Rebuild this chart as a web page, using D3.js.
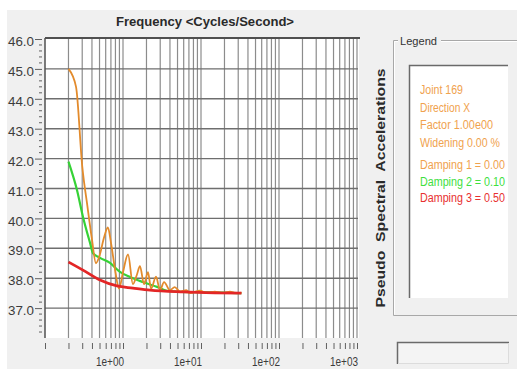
<!DOCTYPE html>
<html>
<head>
<meta charset="utf-8">
<script src="https://cdn.jsdelivr.net/npm/d3@7"></script>
<style>
  html, body { margin: 0; padding: 0; background: #ffffff; }
  svg { display: block; }
  text { font-family: "Liberation Sans", Arial, sans-serif; }
</style>
</head>
<body>
<svg id="chart" width="517" height="369"></svg>
<script>
// Response spectrum curves: frequency (Hz) and pseudo spectral acceleration
const damping1Freq = [0.2, 0.25, 0.3, 0.35, 0.4, 0.45, 0.5, 0.57, 0.64, 0.7, 0.8, 0.89, 1.0, 1.16, 1.34, 1.5, 1.65, 1.86, 2.09, 2.29, 2.65, 2.98, 3.36, 4.0, 4.6, 5.4, 6.5, 7.2, 9.7, 12, 15, 19, 23.5, 28, 33];
const damping1Values = [45.0, 44.4, 41.75, 40.4, 39.3, 38.5, 38.75, 39.35, 39.7, 39.2, 38.2, 37.65, 38.2, 38.8, 37.8, 38.1, 38.4, 37.8, 38.2, 37.65, 38.05, 37.6, 37.87, 37.6, 37.7, 37.55, 37.6, 37.5, 37.58, 37.5, 37.55, 37.5, 37.55, 37.5, 37.52];

const damping2Freq = [0.2, 0.257, 0.307, 0.378, 0.412, 0.507, 0.681, 0.915, 1.23, 1.8, 2.73, 3.66, 5, 10, 20, 33];
const damping2Values = [41.9, 40.95, 40.05, 39.18, 38.84, 38.68, 38.51, 38.21, 38.04, 37.87, 37.71, 37.58, 37.55, 37.53, 37.52, 37.5];

const damping3Freq = [0.2, 0.307, 0.507, 0.838, 1.34, 2.22, 5.87, 15, 33];
const damping3Values = [38.54, 38.27, 37.94, 37.74, 37.67, 37.6, 37.54, 37.51, 37.5];

const yTickValues = [37, 38, 39, 40, 41, 42, 43, 44, 45, 46];
const xDecades = [1, 10, 100, 1000];
const xDecadeLabels = ["1e+00", "1e+01", "1e+02", "1e+03"];

const legendLines = ["Joint 169", "Direction X", "Factor 1.00e00", "Widening 0.00 %"];
const legendLineWidths = [43, 50, 73, 80];
const dampingLabels = ["Damping 1 = 0.00", "Damping 2 = 0.10", "Damping 3 = 0.50"];
const seriesColors = ["#e38b2c", "#36d236", "#e32626"];
const legendTextColors = ["#f0a24e", "#3ee03e", "#e83030"];

const svg = d3.select("#chart");

// window background
svg.append("rect").attr("x", 7).attr("y", 10).attr("width", 510).attr("height", 359).attr("fill", "#f0f0f0");

const x = d3.scaleLog().domain([0.1, 1000]).range([45, 357]);
const y = d3.scaleLinear().domain([36, 46]).range([338, 39]);

// plot area
svg.append("rect").attr("x", 45).attr("y", 38).attr("width", 314).attr("height", 300).attr("fill", "#ffffff");

// vertical grid (every minor decade step)
const gridFreqs = [];
for (const d of [0.1, 1, 10, 100]) for (let k = 1; k <= 9; k++) gridFreqs.push(d * k);
gridFreqs.push(1000);
svg.append("g").selectAll("line").data(gridFreqs.filter(f => f > 0.1)).join("line")
  .attr("x1", d => x(d)).attr("x2", d => x(d))
  .attr("y1", 39).attr("y2", 338)
  .attr("stroke", "#8c8c8c").attr("stroke-width", 1.2);

// horizontal grid
svg.append("g").selectAll("line").data(yTickValues.filter(v => v < 46)).join("line")
  .attr("x1", 45).attr("x2", 358)
  .attr("y1", d => y(d)).attr("y2", d => y(d))
  .attr("stroke", "#6e6e6e").attr("stroke-width", 1.4);

// frame: top and left
svg.append("line").attr("x1", 45).attr("x2", 360).attr("y1", 38).attr("y2", 38).attr("stroke", "#505050").attr("stroke-width", 2);
svg.append("line").attr("x1", 45).attr("x2", 45).attr("y1", 38).attr("y2", 338).attr("stroke", "#505050").attr("stroke-width", 1.5);

// y axis ticks, drawn detached from the frame
const yAxis = d3.axisLeft(y).tickValues(yTickValues).tickSize(7).tickFormat(d3.format(".1f"));
const yg = svg.append("g").attr("transform", "translate(42,0)").call(yAxis);
yg.select(".domain").remove();
yg.selectAll(".tick line").attr("stroke", "#606060");
yg.selectAll(".tick text").attr("x", -8).attr("dy", "0.55em")
  .attr("font-size", 12).attr("fill", "#3c3c3c")
  .attr("textLength", 26).attr("lengthAdjust", "spacingAndGlyphs");
const yMinor = d3.range(36.2, 46, 0.2).filter(v => Math.abs(v - Math.round(v)) > 0.01);
svg.append("g").selectAll("line").data(yMinor).join("line")
  .attr("x1", 39).attr("x2", 42)
  .attr("y1", d => y(d)).attr("y2", d => y(d))
  .attr("stroke", "#606060").attr("stroke-width", 1);

// x axis ticks below the plot
const xg = svg.append("g").attr("transform", "translate(0,343)")
  .call(d3.axisBottom(x).tickValues(gridFreqs).tickSize(6).tickFormat(""));
xg.select(".domain").remove();
xg.selectAll(".tick line").attr("stroke", "#606060");
svg.append("g").selectAll("text").data(xDecades).join("text")
  .attr("x", d => x(d) + 1).attr("y", 366)
  .attr("text-anchor", "end")
  .attr("font-size", 12).attr("fill", "#3c3c3c")
  .attr("textLength", 28).attr("lengthAdjust", "spacingAndGlyphs")
  .text((d, i) => xDecadeLabels[i]);

// curves
const line = d3.line().x(d => x(d[0])).y(d => y(d[1])).curve(d3.curveMonotoneX);
const series = [
  { f: damping2Freq, v: damping2Values, c: seriesColors[1], w: 2.2 },
  { f: damping1Freq, v: damping1Values, c: seriesColors[0], w: 1.8 },
  { f: damping3Freq, v: damping3Values, c: seriesColors[2], w: 2.8 }
];
svg.append("g").selectAll("path").data(series).join("path")
  .attr("d", s => line(s.f.map((f, i) => [f, s.v[i]])))
  .attr("fill", "none").attr("stroke", s => s.c).attr("stroke-width", s => s.w)
  .attr("stroke-linejoin", "round");

// title
svg.append("text").attr("x", 205).attr("y", 26).attr("text-anchor", "middle")
  .attr("font-size", 12).attr("font-weight", "bold").attr("fill", "#2a2a2a")
  .attr("textLength", 178).attr("lengthAdjust", "spacingAndGlyphs")
  .text("Frequency <Cycles/Second>");

// vertical axis title
svg.append("text").attr("transform", "translate(385,188) rotate(-90)")
  .attr("text-anchor", "middle")
  .attr("font-size", 13).attr("font-weight", "bold").attr("fill", "#2a2a2a")
  .attr("textLength", 239).attr("lengthAdjust", "spacingAndGlyphs")
  .text("Pseudo  Spectral  Accelerations")
  .style("white-space", "pre");

// legend group box
const gb = svg.append("g");
gb.append("path").attr("d", "M398,40.5 H393.5 V315.5 H517 M441,40.5 H517")
  .attr("fill", "none").attr("stroke", "#a8a8a8").attr("stroke-width", 1);
gb.append("path").attr("d", "M398,41.5 H394.5 V314.5 M441,41.5 H517")
  .attr("fill", "none").attr("stroke", "#ffffff").attr("stroke-width", 1);
gb.append("text").attr("x", 400).attr("y", 45).attr("font-size", 11).attr("fill", "#333")
  .attr("textLength", 37).attr("lengthAdjust", "spacingAndGlyphs")
  .text("Legend");

// legend list box
gb.append("rect").attr("x", 409).attr("y", 65).attr("width", 99).attr("height", 233).attr("fill", "#ffffff");
gb.append("path").attr("d", "M409.5,298 V65.5 H508").attr("fill", "none").attr("stroke", "#6a6a6a").attr("stroke-width", 1.5);

gb.append("g").selectAll("text").data(legendLines).join("text")
  .attr("x", 420).attr("y", (d, i) => 94 + i * 17.5)
  .attr("font-size", 12).attr("fill", legendTextColors[0])
  .attr("textLength", (d, i) => legendLineWidths[i]).attr("lengthAdjust", "spacingAndGlyphs")
  .text(d => d);
gb.append("g").selectAll("text").data(dampingLabels).join("text")
  .attr("x", 420).attr("y", (d, i) => 169 + i * 16.5)
  .attr("font-size", 12).attr("fill", (d, i) => legendTextColors[i])
  .attr("textLength", 85).attr("lengthAdjust", "spacingAndGlyphs")
  .text(d => d);

// status box
svg.append("rect").attr("x", 397).attr("y", 342).attr("width", 112).attr("height", 22).attr("fill", "#f4f4f4");
svg.append("path").attr("d", "M397.5,364 V342.5 H509").attr("fill", "none").attr("stroke", "#6a6a6a").attr("stroke-width", 1.5);
svg.append("path").attr("d", "M398,363.5 H508.5 V343").attr("fill", "none").attr("stroke", "#dcdcdc").attr("stroke-width", 1);
</script>
</body>
</html>
